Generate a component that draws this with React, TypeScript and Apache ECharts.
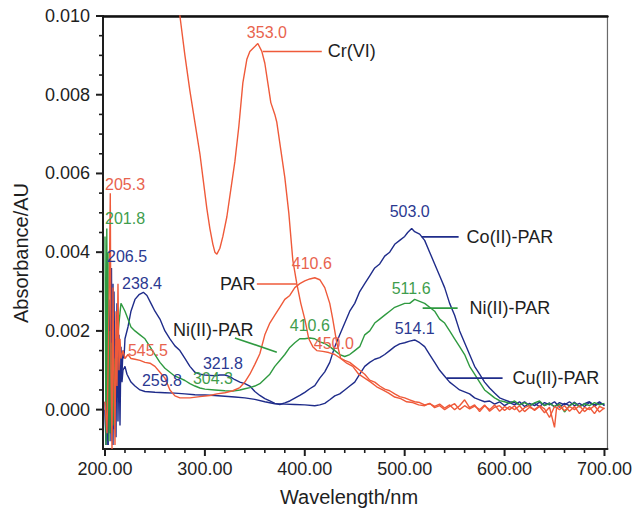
import { useEffect, useRef } from 'react';
import * as echarts from 'echarts';

const FONT = "'Liberation Sans', Arial, Helvetica, sans-serif";
const RED = '#ef5a3a';
const BLUE = '#1f2c8a';
const GREEN = '#2f9a40';
const RED_T = '#e8634e';
const BLUE_T = '#2b3991';
const GREEN_T = '#3f9d4d';
const INK = '#1e1e1e';

// axis ticks
const xMajorTicks = [200, 300, 400, 500, 600, 700];
const xMinorTicks = [220, 240, 260, 280, 320, 340, 360, 380, 420, 440, 460, 480, 520, 540, 560, 580, 620, 640, 660, 680];
const yMajorTicks = [0, 0.002, 0.004, 0.006, 0.008, 0.01];
const yMinorTicks = [-0.0005, 0.0005, 0.001, 0.0015, 0.0025, 0.003, 0.0035, 0.0045, 0.005, 0.0055, 0.0065, 0.007, 0.0075, 0.0085, 0.009, 0.0095];

// spectra: [wavelength nm, absorbance AU]
const coPar: [number, number][] = [
  [200, 0.0], [201, -0.0009], [202, 0.001], [203, -0.0009], [204, 0.0015], [205, -0.0006], [206, 0.0022], [206.5, 0.0036], [207, 0.0005], [208, -0.0009], [209, 0.003], [210, 0.0004], [211, -0.0007], [212, 0.0024], [213, 0.0003], [214, 0.0019], [215, -0.0004], [216, 0.0016], [217, 0.0009], [218, 0.0015], [219, 0.0013], [220, 0.0018], [223, 0.0021], [226, 0.0025], [230, 0.0028], [234, 0.00292], [238.4, 0.00298], [242, 0.0029], [246, 0.0027], [250, 0.0025], [255, 0.0023], [260, 0.002], [265, 0.0018], [270, 0.00162], [275, 0.0015], [280, 0.0013], [285, 0.0011], [290, 0.00095], [295, 0.0009], [300, 0.00088], [305, 0.00087], [310, 0.00086], [315, 0.00088], [320, 0.00088], [325, 0.00084], [330, 0.00076], [335, 0.0007], [340, 0.00066], [345, 0.0006], [350, 0.00046], [355, 0.00036], [360, 0.00028], [365, 0.00022], [370, 0.00016], [375, 0.00013], [380, 0.00017], [385, 0.00022], [390, 0.00029], [395, 0.00036], [400, 0.00044], [405, 0.00053], [410, 0.00061], [415, 0.0008], [420, 0.00096], [425, 0.0012], [430, 0.0016], [435, 0.0019], [440, 0.0022], [445, 0.0025], [450, 0.0027], [455, 0.003], [460, 0.0032], [465, 0.0034], [470, 0.0036], [475, 0.0037], [480, 0.0039], [485, 0.004], [490, 0.0042], [495, 0.0043], [500, 0.0044], [503, 0.0045], [507, 0.0046], [510, 0.00452], [515, 0.00446], [520, 0.0043], [525, 0.004], [530, 0.0037], [535, 0.0034], [540, 0.0031], [545, 0.0027], [550, 0.0024], [555, 0.002], [560, 0.0017], [565, 0.0014], [570, 0.0011], [575, 0.0009], [580, 0.0007], [585, 0.00055], [590, 0.00042], [595, 0.0003], [600, 0.00025], [605, 0.0002], [610, 0.00018], [615, 0.00012], [620, 0.0002], [625, 0.0001], [630, 0.00016], [635, 0.00008], [640, 0.00018], [645, 0.00012], [650, 0.0002], [655, 0.00006], [660, 0.00016], [665, 0.0001], [670, 0.00019], [675, 0.00008], [680, 0.00015], [685, 0.0002], [690, 0.00009], [695, 0.00017], [700, 0.00012],
];

const cuPar: [number, number][] = [
  [200, 0.0002], [201, -0.0008], [202, 0.002], [203, -0.0009], [204, 0.0008], [205, 0.0028], [206, -0.0008], [207, 0.0012], [208, 0.0032], [209, -0.0005], [210, 0.0018], [211, 0.0006], [212, 0.0027], [213, -0.0003], [214, 0.0014], [215, 0.0004], [216, 0.0011], [217, 0.0007], [218, 0.001], [220, 0.0011], [222, 0.0009], [226, 0.0007], [230, 0.0006], [235, 0.0005], [240, 0.00046], [250, 0.00044], [260, 0.00043], [270, 0.00042], [280, 0.0004], [290, 0.00038], [300, 0.00037], [310, 0.00036], [320, 0.00034], [330, 0.00032], [340, 0.0003], [350, 0.00026], [360, 0.0002], [370, 0.00015], [380, 0.00014], [390, 0.00013], [400, 0.00012], [410, 0.0001], [415, 0.00012], [420, 0.00016], [425, 0.00025], [430, 0.00035], [435, 0.0004], [440, 0.0005], [445, 0.0006], [450, 0.0007], [455, 0.0009], [460, 0.0011], [465, 0.0012], [470, 0.00128], [475, 0.00132], [480, 0.0014], [485, 0.0015], [490, 0.0016], [495, 0.00167], [500, 0.0017], [505, 0.00174], [510, 0.00177], [515, 0.0017], [520, 0.0016], [525, 0.0014], [530, 0.0012], [535, 0.001], [540, 0.00085], [545, 0.0007], [550, 0.0006], [555, 0.0005], [560, 0.00045], [565, 0.0004], [570, 0.0003], [575, 0.00025], [580, 0.0002], [585, 0.00022], [590, 0.00014], [595, 0.0002], [600, 0.0001], [605, 0.00018], [610, 0.00012], [615, 0.0002], [620, 0.00008], [625, 0.00016], [630, 0.0001], [635, 0.00019], [640, 0.00011], [645, 0.00017], [650, 0.00007], [655, 0.00018], [660, 0.00012], [665, 0.0002], [670, 0.0001], [675, 0.00016], [680, 0.00008], [685, 0.00018], [690, 0.00012], [695, 0.0002], [700, 0.0001],
];

const niPar: [number, number][] = [
  [200, 0.0044], [201, -0.0009], [201.8, 0.0046], [202.5, 0.0], [203, 0.004], [204, -0.0008], [205, 0.002], [206, -0.0006], [207, 0.0017], [208, -0.0004], [209, 0.0013], [210, 0.0004], [212, 0.0016], [214, 0.0022], [216, 0.0027], [218, 0.0026], [220, 0.0025], [223, 0.0023], [226, 0.0021], [230, 0.002], [235, 0.0019], [240, 0.0018], [245, 0.0016], [250, 0.0014], [255, 0.0012], [260, 0.00105], [265, 0.00095], [270, 0.00085], [275, 0.0008], [280, 0.00074], [285, 0.00066], [290, 0.0006], [295, 0.00055], [300, 0.00052], [310, 0.0005], [320, 0.00048], [328, 0.00047], [335, 0.0005], [340, 0.00053], [345, 0.00056], [350, 0.0006], [355, 0.00066], [360, 0.00078], [365, 0.0009], [370, 0.0011], [375, 0.00125], [380, 0.0014], [385, 0.00158], [390, 0.0017], [395, 0.0018], [400, 0.0018], [405, 0.00182], [410, 0.0018], [415, 0.00172], [420, 0.00168], [425, 0.0016], [430, 0.0015], [435, 0.0014], [440, 0.00135], [445, 0.0014], [450, 0.0015], [455, 0.0016], [460, 0.0019], [465, 0.002], [470, 0.0022], [475, 0.0023], [480, 0.0024], [485, 0.0025], [490, 0.0026], [495, 0.00265], [500, 0.0027], [505, 0.0027], [510, 0.0028], [515, 0.00275], [520, 0.0027], [525, 0.0026], [530, 0.0025], [535, 0.0023], [540, 0.0022], [545, 0.002], [550, 0.0018], [555, 0.0016], [560, 0.0014], [565, 0.0011], [570, 0.0009], [575, 0.0007], [580, 0.0005], [585, 0.0004], [590, 0.0003], [595, 0.00023], [600, 0.0002], [605, 0.00016], [610, 0.00022], [615, 0.00012], [620, 0.00018], [625, 0.0001], [630, 0.00017], [635, 0.00022], [640, 0.0001], [645, 0.00016], [650, 0.00008], [655, 0.00014], [660, -0.00006], [665, 0.0001], [670, 0.00017], [675, 0.00007], [680, 0.00015], [685, 0.0001], [690, 0.00018], [695, 0.00012], [700, 0.00016],
];

const par: [number, number][] = [
  [200, 0.0002], [202, -0.0006], [204, 0.0025], [205.3, 0.0055], [206, 0.001], [207, -0.001], [208, 0.0031], [209, 0.0008], [210, -0.0009], [211, 0.0025], [212, 0.0006], [213, 0.0032], [214, 0.001], [215, 0.0018], [216, 0.0013], [218, 0.0015], [220, 0.0013], [223, 0.0014], [226, 0.0013], [230, 0.00128], [235, 0.00125], [240, 0.0012], [245, 0.00118], [250, 0.0011], [255, 0.00095], [260, 0.0008], [265, 0.0005], [270, 0.00035], [275, 0.0003], [285, 0.0003], [295, 0.00033], [305, 0.00036], [312, 0.0004], [320, 0.00043], [328, 0.00048], [335, 0.00056], [340, 0.0007], [345, 0.0009], [350, 0.00115], [355, 0.00142], [360, 0.0019], [365, 0.0022], [370, 0.0024], [375, 0.0026], [380, 0.0028], [385, 0.0029], [390, 0.0031], [395, 0.0032], [400, 0.00327], [405, 0.00332], [410, 0.00335], [415, 0.0033], [420, 0.0031], [425, 0.0027], [428, 0.0023], [432, 0.0017], [436, 0.0013], [440, 0.00125], [445, 0.0012], [450, 0.0011], [455, 0.001], [460, 0.0009], [465, 0.00075], [470, 0.0007], [475, 0.0006], [480, 0.00052], [485, 0.00048], [490, 0.0004], [495, 0.00033], [500, 0.0003], [505, 0.00025], [510, 0.0002], [515, 0.00018], [520, 0.00012], [525, 0.00015], [530, 0.00008], [535, 0.00014], [540, 0.00004], [545, 0.00012], [550, 0.0], [555, 0.0001], [560, 0.00025], [565, 0.00005], [570, 0.00012], [575, -0.00005], [580, 0.0001], [585, 0.0], [590, 0.00012], [595, -0.00004], [600, 0.00008], [605, 0.0], [610, 0.0001], [615, -0.00006], [620, 0.00005], [625, 0.0001], [630, -0.00002], [635, 0.00008], [640, -0.00008], [645, 0.00006], [650, -0.00045], [652, 0.00004], [655, 0.0001], [660, -0.00003], [665, 0.00008], [670, 0.0], [675, 0.0001], [680, -0.00005], [685, 0.00006], [690, -0.0001], [695, 0.00008], [700, 0.00002],
];

const crVI: [number, number][] = [
  [270, 0.0112], [275, 0.01], [280, 0.009], [285, 0.0081], [290, 0.0073], [295, 0.0065], [298, 0.0059], [302, 0.0051], [305, 0.0046], [308, 0.0042], [310, 0.004], [312, 0.00395], [315, 0.0041], [318, 0.0044], [322, 0.0049], [326, 0.0056], [330, 0.0063], [334, 0.0072], [338, 0.0083], [342, 0.0089], [345, 0.0091], [349, 0.0092], [353, 0.0093], [357, 0.0091], [360, 0.0088], [363, 0.0083], [366, 0.0078], [370, 0.0075], [372, 0.0073], [376, 0.0066], [380, 0.0059], [384, 0.005], [388, 0.0038], [392, 0.0032], [396, 0.0027], [400, 0.0023], [404, 0.0018], [408, 0.0016], [412, 0.0015], [418, 0.00148], [424, 0.00145], [430, 0.0014], [436, 0.0013], [442, 0.00118], [448, 0.0011], [454, 0.0009], [460, 0.0008], [466, 0.0007], [472, 0.00058], [478, 0.0005], [484, 0.00042], [490, 0.00032], [496, 0.00028], [502, 0.0002], [508, 0.00018], [514, 0.00012], [520, 0.0001], [525, 0.00016], [530, 0.00005], [535, 0.0001], [540, 0.0], [545, 0.00008], [550, 0.00015], [555, 0.0], [560, 0.0001], [565, 0.00002], [570, 0.00009], [575, 0.0], [580, 0.00012], [585, -0.00004], [590, 0.00006], [595, 0.0001], [600, -0.00002], [605, 0.00008], [610, 0.0], [615, 0.0001], [620, -0.00005], [625, 0.00006], [630, 0.0], [635, 0.0001], [640, 0.00002], [645, -0.0002], [650, 0.00008], [655, 0.0], [660, 0.0001], [665, -0.00004], [670, 0.00008], [675, -0.0001], [680, 0.00006], [685, 0.0], [690, 0.0001], [695, -0.00006], [700, 0.00005],
];

const seriesDefs = [
  { name: 'Co(II)-PAR', data: coPar, color: BLUE },
  { name: 'Cu(II)-PAR', data: cuPar, color: BLUE },
  { name: 'Ni(II)-PAR', data: niPar, color: GREEN },
  { name: 'PAR', data: par, color: RED },
  { name: 'Cr(VI)', data: crVI, color: RED },
];

// peak annotations placed in data coordinates [wavelength, absorbance]
const peakLabels = [
  { text: '353.0', at: [342, 0.00959], color: RED_T },
  { text: '205.3', at: [200, 0.00571], color: RED_T },
  { text: '201.8', at: [200, 0.00485], color: GREEN_T },
  { text: '206.5', at: [202, 0.0039], color: BLUE_T },
  { text: '238.4', at: [217, 0.0032], color: BLUE_T },
  { text: '545.5', at: [223, 0.00151], color: RED_T },
  { text: '259.8', at: [237, 0.00075], color: BLUE_T },
  { text: '304.3', at: [288, 0.0008], color: GREEN_T },
  { text: '321.8', at: [298, 0.00118], color: BLUE_T },
  { text: '410.6', at: [387, 0.0037], color: RED_T },
  { text: '410.6', at: [385, 0.00215], color: GREEN_T },
  { text: '450.0', at: [409, 0.00169], color: RED_T },
  { text: '503.0', at: [485, 0.00503], color: BLUE_T },
  { text: '511.6', at: [487, 0.00309], color: GREEN_T },
  { text: '514.1', at: [490, 0.00207], color: BLUE_T },
];

const nameLabels = [
  { text: 'Cr(VI)', at: [423, 0.0091], from: [358, 0.0091], to: [417, 0.0091], color: RED },
  { text: 'PAR', at: [315, 0.00319], from: [352, 0.00319], to: [392, 0.00319], color: RED },
  { text: 'Ni(II)-PAR', at: [268, 0.00202], from: [330, 0.00182], to: [372, 0.00146], color: GREEN },
  { text: 'Co(II)-PAR', at: [562, 0.00439], from: [517, 0.00439], to: [554, 0.00439], color: BLUE },
  { text: 'Ni(II)-PAR', at: [565, 0.00258], from: [518, 0.00258], to: [553, 0.00258], color: GREEN },
  { text: 'Cu(II)-PAR', at: [608, 0.0008], from: [542, 0.0008], to: [598, 0.0008], color: BLUE },
];

const X_MIN = 198;
const X_MAX = 703;
const Y_MIN = -0.001;
const Y_MAX = 0.01;

export default function App() {
  const ref = useRef<HTMLDivElement>(null);

  useEffect(() => {
    if (!ref.current) return;
    const chart = echarts.init(ref.current, null, { renderer: 'svg' });
    const hidden = { show: false };
    chart.setOption({
      animation: false,
      backgroundColor: '#ffffff',
      textStyle: { fontFamily: FONT },
      grid: { left: 103, right: 27, top: 16, bottom: 62, show: true, borderColor: '#6a6a6a', borderWidth: 1.2 },
      xAxis: [
        {
          type: 'value', min: X_MIN, max: X_MAX, position: 'bottom',
          axisLine: { show: true, onZero: false, lineStyle: { color: INK, width: 2 } },
          axisTick: hidden,
          axisLabel: { customValues: xMajorTicks, formatter: (v: number) => v.toFixed(2), fontSize: 18, color: INK, margin: 11, fontFamily: FONT },
          splitLine: hidden,
        },
        {
          type: 'value', min: X_MIN, max: X_MAX, position: 'top',
          axisLine: { show: true, onZero: false, lineStyle: { color: '#111', width: 2.5 } },
          axisTick: hidden, axisLabel: hidden, splitLine: hidden,
        },
      ],
      yAxis: [
        {
          type: 'value', min: Y_MIN, max: Y_MAX, position: 'left',
          axisLine: { show: true, onZero: false, lineStyle: { color: INK, width: 2 } },
          axisTick: hidden,
          axisLabel: { customValues: yMajorTicks, formatter: (v: number) => v.toFixed(3), fontSize: 18, color: INK, margin: 13, fontFamily: FONT },
          splitLine: hidden,
        },
      ],
      series: seriesDefs.map((s) => ({
        name: s.name,
        type: 'line',
        xAxisIndex: 0,
        yAxisIndex: 0,
        data: s.data,
        showSymbol: false,
        symbol: 'none',
        clip: true,
        lineStyle: { color: s.color, width: 1.4 },
        itemStyle: { color: s.color },
      })),
    });

    const toPx = (p: number[]) => chart.convertToPixel({ xAxisIndex: 0, yAxisIndex: 0 }, p) as number[];
    const graphic: any[] = [];

    // tick marks, positioned through the axis scales
    const tick = (len: number) => ({ stroke: INK, lineWidth: len > 5 ? 2 : 1.6 });
    const xTick = (v: number, len: number) => {
      const [x, y] = toPx([v, Y_MIN]);
      graphic.push({ type: 'line', z: 120, shape: { x1: x, y1: y, x2: x, y2: y + len }, style: tick(len) });
    };
    const yTick = (v: number, len: number) => {
      const [x, y] = toPx([X_MIN, v]);
      graphic.push({ type: 'line', z: 120, shape: { x1: x - len, y1: y, x2: x, y2: y }, style: tick(len) });
    };
    xMajorTicks.forEach((v) => xTick(v, 7));
    xMinorTicks.forEach((v) => xTick(v, 4));
    yMajorTicks.forEach((v) => yTick(v, 7));
    yMinorTicks.forEach((v) => yTick(v, 4));

    peakLabels.forEach((l) => {
      const [x, y] = toPx(l.at);
      graphic.push({
        type: 'text', x, y, z: 100,
        style: { text: l.text, fill: l.color, fontSize: 16, fontFamily: FONT, align: 'left', verticalAlign: 'middle' },
      });
    });
    nameLabels.forEach((l) => {
      const [x1, y1] = toPx(l.from);
      const [x2, y2] = toPx(l.to);
      graphic.push({ type: 'line', z: 100, shape: { x1, y1, x2, y2 }, style: { stroke: l.color, lineWidth: 1.6 } });
      const [x, y] = toPx(l.at);
      graphic.push({
        type: 'text', x, y, z: 100,
        style: { text: l.text, fill: INK, fontSize: 18, fontFamily: FONT, align: 'left', verticalAlign: 'middle' },
      });
    });
    graphic.push({
      type: 'text', x: 21, y: 253, rotation: Math.PI / 2, z: 100,
      style: { text: 'Absorbance/AU', fill: INK, fontSize: 20, fontFamily: FONT, align: 'center', verticalAlign: 'middle' },
    });
    graphic.push({
      type: 'text', x: 349, y: 497, z: 100,
      style: { text: 'Wavelength/nm', fill: INK, fontSize: 20, fontFamily: FONT, align: 'center', verticalAlign: 'middle' },
    });
    chart.setOption({ graphic });

    return () => chart.dispose();
  }, []);

  return <div ref={ref} style={{ position: 'absolute', left: 0, top: 0, width: 635, height: 511 }} />;
}
